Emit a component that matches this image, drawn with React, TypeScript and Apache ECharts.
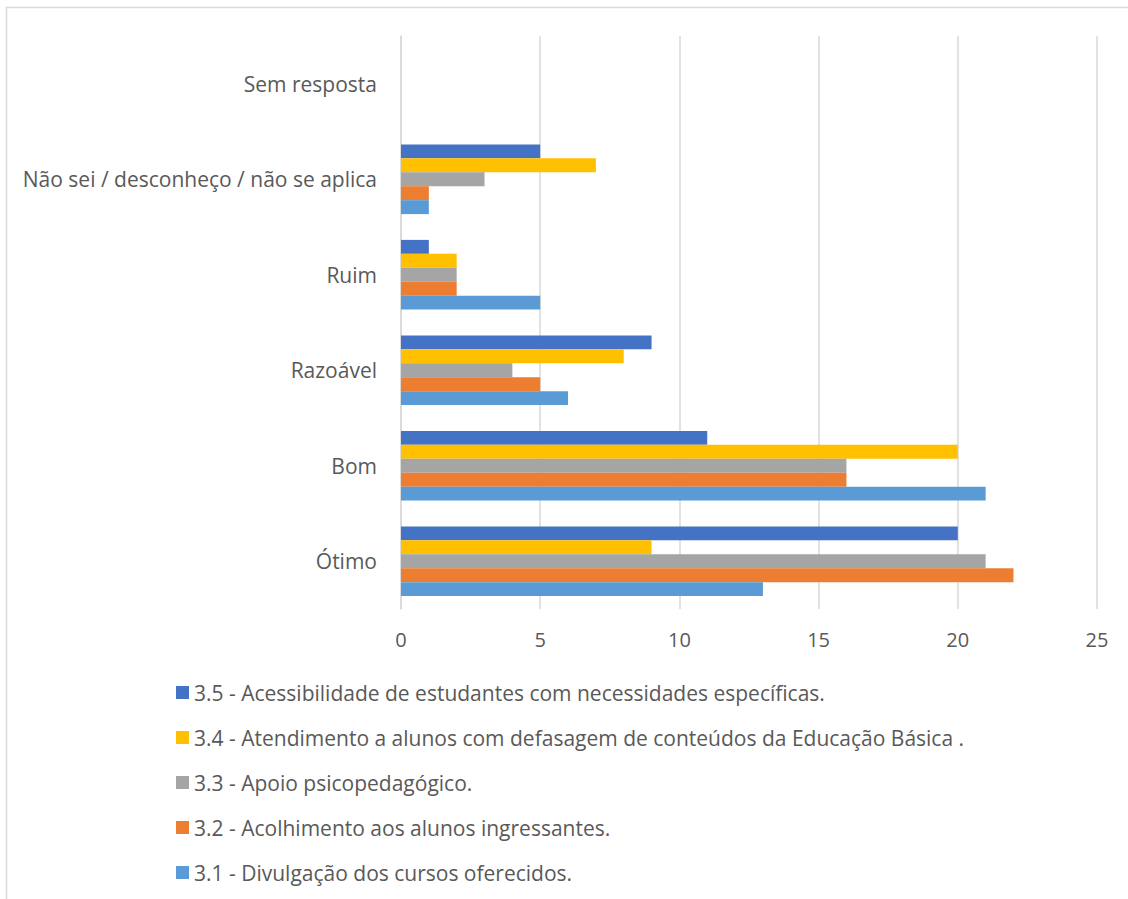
import React, { useEffect, useRef } from "react";
import * as echarts from "echarts";

const categories = ["Ótimo", "Bom", "Razoável", "Ruim", "Não sei / desconheço / não se aplica", "Sem resposta"];

const seriesNames = [
  "3.5 - Acessibilidade de estudantes com necessidades específicas.",
  "3.4 - Atendimento a alunos com defasagem de conteúdos da Educação Básica .",
  "3.3 - Apoio psicopedagógico.",
  "3.2 - Acolhimento aos alunos ingressantes.",
  "3.1 - Divulgação dos cursos oferecidos.",
];

const s35 = [20, 11, 9, 1, 5, 0];
const s34 = [9, 20, 8, 2, 7, 0];
const s33 = [21, 16, 4, 2, 3, 0];
const s32 = [22, 16, 5, 2, 1, 0];
const s31 = [13, 21, 6, 5, 1, 0];

const seriesValues = [s35, s34, s33, s32, s31];
const colors = ["#4472C4", "#FFC000", "#A5A5A5", "#ED7D31", "#5B9BD5"];

const xTicks = { min: 0, max: 25, interval: 5 };

const FONT = "'Open Sans', sans-serif";
const TXT = "#595959";

export default function App() {
  const ref = useRef<HTMLDivElement>(null);
  useEffect(() => {
    if (!ref.current) return;
    const chart = echarts.init(ref.current, null, { renderer: "svg" });
    chart.setOption({
      animation: false,
      backgroundColor: "#ffffff",
      textStyle: { fontFamily: FONT },
      graphic: [
        {
          type: "rect",
          shape: { x: 6.5, y: 7.5, width: 1200, height: 1000 },
          style: { fill: "none", stroke: "#d9d9d9", lineWidth: 1.5 },
          silent: true,
        },
      ],
      grid: { left: 401, right: 31, top: 36, bottom: 290, containLabel: false },
      xAxis: {
        type: "value",
        min: xTicks.min,
        max: xTicks.max,
        interval: xTicks.interval,
        axisLine: { show: false },
        axisTick: { show: false },
        axisLabel: { color: TXT, fontSize: 20, fontFamily: FONT, margin: 20 },
        splitLine: { show: true, lineStyle: { color: "#d9d9d9", width: 1.5 } },
      },
      yAxis: {
        type: "category",
        data: categories,
        axisLine: { show: true, lineStyle: { color: "#d9d9d9", width: 1.5 } },
        axisTick: { show: false },
        axisLabel: { color: TXT, fontSize: 21, fontFamily: FONT, margin: 24 },
        splitLine: { show: false },
      },
      legend: {
        orient: "vertical",
        left: 171,
        top: 676,
        itemWidth: 13,
        itemHeight: 13,
        itemGap: 22,
        icon: "rect",
        data: seriesNames,
        textStyle: { color: TXT, fontSize: 21, fontFamily: FONT, lineHeight: 23 },
      },
      series: seriesNames.map((name, i) => ({
        name,
        type: "bar",
        data: seriesValues[i],
        itemStyle: { color: colors[i] },
        barGap: "0%",
        barCategoryGap: "27%",
      })),
    });
    return () => chart.dispose();
  }, []);
  return <div ref={ref} style={{ position: "fixed", left: 0, top: 0, width: 1128, height: 899 }} />;
}
